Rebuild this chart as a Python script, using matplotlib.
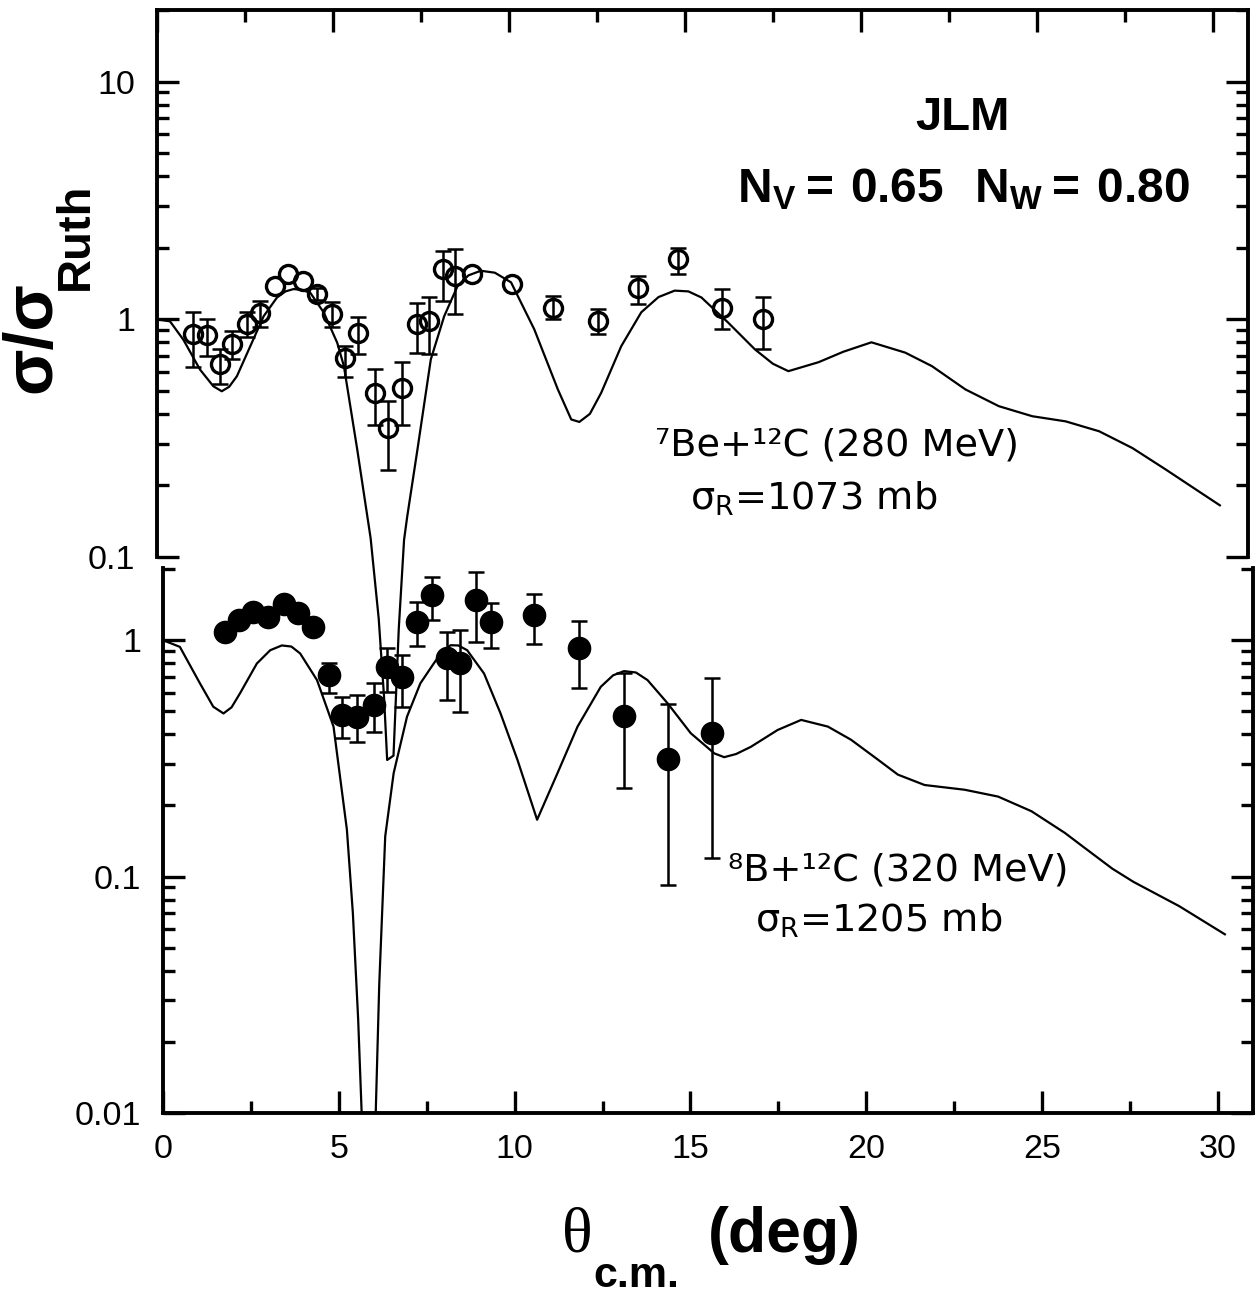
import numpy as np
import matplotlib
matplotlib.use('Agg')
import matplotlib.pyplot as plt
from matplotlib.ticker import (LogLocator, MultipleLocator, FixedLocator,
                               FixedFormatter, NullFormatter)

plt.rcParams['font.family'] = ['Liberation Sans', 'DejaVu Sans']
plt.rcParams['mathtext.fontset'] = 'custom'
plt.rcParams['mathtext.rm'] = 'DejaVu Sans'
plt.rcParams['mathtext.bf'] = 'Liberation Sans:bold'

# ---- 7Be + 12C (280 MeV), upper panel ----
be7_theta = [1.03, 1.41, 1.79, 2.12, 2.55, 2.93, 3.35, 3.73, 4.16, 4.54,
             4.96, 5.34, 5.72, 6.19, 6.57, 6.97, 7.38, 7.74, 8.12, 8.47,
             8.94, 10.08, 11.26, 12.53, 13.67, 14.81, 16.04, 17.21]
be7_ratio = [0.865, 0.856, 0.646, 0.784, 0.953, 1.067, 1.38, 1.55, 1.45, 1.275,
             1.05, 0.689, 0.879, 0.49, 0.349, 0.515, 0.953, 0.984, 1.626, 1.52,
             1.55, 1.405, 1.12, 0.98, 1.36, 1.79, 1.12, 1.0]
be7_lo = [0.632, 0.70, 0.532, 0.678, 0.84, 0.925, np.nan, np.nan, np.nan, 1.2,
          0.925, 0.57, 0.712, 0.36, 0.233, 0.36, 0.723, 0.712, 1.19, 1.05,
          np.nan, np.nan, 1.0, 0.87, 1.157, 1.55, 0.907, 0.752]
be7_hi = [1.073, 1.0, 0.747, 0.893, 1.07, 1.195, np.nan, np.nan, np.nan, 1.35,
          1.18, 0.77, 1.02, 0.615, 0.452, 0.659, 1.176, 1.235, 1.94, 1.97,
          np.nan, np.nan, 1.25, 1.1, 1.52, 2.0, 1.34, 1.235]

be7_fit_theta = [0, 0.37, 0.75, 1.22, 1.6, 1.84, 2.05, 2.27, 2.65, 3.03, 3.41,
                 3.65, 3.88, 4.12, 4.36, 4.74, 5.12, 5.31, 5.69, 6.07, 6.3, 6.45,
                 6.54, 6.72, 6.87, 7.02, 7.11, 7.40, 7.78, 8.16, 8.54, 8.85, 9.2,
                 9.6, 10.06, 10.72, 11.39, 11.77, 12.0, 12.3, 12.62, 13.19, 13.76,
                 14.25, 14.71, 15.1, 15.47, 16.23, 16.99, 17.5, 17.94, 18.8, 19.5,
                 20.3, 21.26, 22.02, 22.97, 23.92, 24.87, 25.82, 26.77, 27.72,
                 28.67, 29.62, 30.2]
be7_fit = [1.0, 0.98, 0.82, 0.615, 0.523, 0.498, 0.52, 0.576, 0.77, 1.03, 1.235,
           1.31, 1.34, 1.33, 1.29, 1.067, 0.797, 0.636, 0.283, 0.12, 0.055, 0.026,
           0.014, 0.0146, 0.05, 0.118, 0.148, 0.283, 0.678, 1.03, 1.38, 1.53, 1.6,
           1.57, 1.43, 0.907, 0.507, 0.379, 0.37, 0.4, 0.49, 0.77, 1.07,
           1.24, 1.32, 1.31, 1.235, 0.968, 0.747, 0.65, 0.605, 0.66, 0.73,
           0.80, 0.724, 0.635, 0.507, 0.431, 0.391, 0.372, 0.338, 0.287,
           0.233, 0.188, 0.165]

# ---- 8B + 12C (320 MeV), lower panel ----
b8_theta = [1.77, 2.15, 2.57, 3.0, 3.43, 3.85, 4.28, 4.71, 5.09, 5.52,
            5.99, 6.37, 6.80, 7.23, 7.66, 8.08, 8.46, 8.89, 9.32, 10.55,
            11.83, 13.1, 14.35, 15.6]
b8_ratio = [1.084, 1.215, 1.316, 1.256, 1.428, 1.30, 1.138, 0.712, 0.483, 0.475,
            0.532, 0.772, 0.70, 1.195, 1.55, 0.837, 0.797, 1.475, 1.195, 1.275,
            0.923, 0.477, 0.314, 0.406]
b8_lo = [np.nan, np.nan, np.nan, 1.17, np.nan, np.nan, 1.07, 0.596, 0.385, 0.372,
         0.41, 0.605, 0.523, 0.943, 1.22, 0.558, 0.498, 0.984, 0.923, 0.968,
         0.625, 0.237, 0.092, 0.12]
b8_hi = [np.nan, np.nan, np.nan, 1.33, np.nan, np.nan, 1.2, 0.797, 0.576, 0.586,
         0.656, 0.923, 0.864, 1.45, 1.85, 1.084, 1.1, 1.94, 1.43, 1.57,
         1.2, 0.723, 0.535, 0.689]

b8_fit_theta = [0, 0.48, 1.05, 1.43, 1.72, 1.95, 2.19, 2.67, 3.05, 3.38, 3.65,
                3.9, 4.38, 4.85, 5.23, 5.4, 5.55, 5.65, 5.85, 6.05, 6.15, 6.32,
                6.56, 6.94, 7.32, 7.7, 7.95, 8.18, 8.4, 8.65, 9.13, 9.6, 10.08,
                10.64, 11.22, 11.79, 12.45, 12.8, 13.11, 13.45, 13.78, 14.35,
                15.01, 15.68, 15.96, 16.3, 16.72, 17.48, 18.15, 18.91, 19.57,
                20.3, 20.9, 21.66, 22.8, 23.75, 24.7, 25.65, 26.22, 27.0, 27.6,
                28.9, 30.2]
b8_fit = [1.0, 0.937, 0.657, 0.523, 0.49, 0.52, 0.596, 0.797, 0.907, 0.95, 0.94,
          0.879, 0.678, 0.431, 0.158, 0.07, 0.025, 0.01, 0.002, 0.01, 0.035, 0.148,
          0.274, 0.475, 0.657, 0.797, 0.9, 0.952, 0.95, 0.907, 0.723, 0.49, 0.312,
          0.174, 0.274, 0.431, 0.635, 0.71, 0.74, 0.73, 0.678, 0.541,
          0.404, 0.332, 0.32, 0.33, 0.354, 0.417, 0.46, 0.431, 0.379,
          0.315, 0.27, 0.244, 0.233, 0.218, 0.189, 0.153, 0.132, 0.108, 0.095,
          0.075, 0.057]

W, H = 1257, 1296


def fx(px):
    return px / W


def fy(py):
    return 1 - py / H


fig = plt.figure(figsize=(W / 100, H / 100), dpi=100)
ax_top = fig.add_axes([fx(157), fy(557), fx(1248) - fx(157), fy(10) - fy(557)])
ax_bot = fig.add_axes([fx(163), fy(1113), fx(1253) - fx(163), fy(568) - fy(1113)])


def style(ax, ylim, yticks, ylabels):
    ax.set_facecolor('none')
    ax.set_yscale('log')
    ax.set_xlim(0, 31)
    ax.set_ylim(*ylim)
    ax.xaxis.set_major_locator(MultipleLocator(5))
    ax.xaxis.set_minor_locator(MultipleLocator(2.5))
    ax.yaxis.set_major_locator(FixedLocator(yticks))
    ax.yaxis.set_major_formatter(FixedFormatter(ylabels))
    ax.yaxis.set_minor_locator(LogLocator(base=10, subs=range(2, 10), numticks=20))
    ax.yaxis.set_minor_formatter(NullFormatter())
    for s in ax.spines.values():
        s.set_linewidth(2.8)
    ax.tick_params(which='both', direction='in', width=2.4, right=True,
                   labelsize=24.5)
    ax.tick_params(which='major', length=16)
    ax.tick_params(which='minor', length=8.5)
    ax.tick_params(axis='y', pad=16)
    ax.tick_params(axis='x', pad=15)


style(ax_top, (0.1, 20), [0.1, 1, 10], ['0.1', '1', '10'])
style(ax_bot, (0.01, 2.02), [0.01, 0.1, 1], ['0.01', '0.1', '1'])

ax_top.spines['bottom'].set_visible(False)
ax_top.tick_params(axis='x', which='both', bottom=False, top=True,
                   labelbottom=False)
ax_bot.spines['top'].set_visible(False)
ax_bot.tick_params(axis='x', which='both', top=False, bottom=True)

# fits
ax_top.plot(be7_fit_theta, be7_fit, color='black', lw=1.6, clip_on=False, zorder=2)
ax_bot.plot(b8_fit_theta, b8_fit, color='black', lw=1.6, zorder=2)

# 7Be data (open circles)
t = np.array(be7_theta)
r = np.array(be7_ratio)
lo = np.array(be7_lo)
hi = np.array(be7_hi)
m = ~np.isnan(lo)
ax_top.errorbar(t[m], r[m], yerr=[r[m] - lo[m], hi[m] - r[m]], fmt='none',
                ecolor='black', elinewidth=1.8, capsize=6, capthick=1.8, zorder=3)
ax_top.plot(t, r, 'o', ms=13, mfc='none', mec='black', mew=2.4, zorder=4)

# 8B data (filled circles)
t = np.array(b8_theta)
r = np.array(b8_ratio)
lo = np.array(b8_lo)
hi = np.array(b8_hi)
m = ~np.isnan(lo)
ax_bot.errorbar(t[m], r[m], yerr=[r[m] - lo[m], hi[m] - r[m]], fmt='none',
                ecolor='black', elinewidth=1.8, capsize=6, capthick=1.8, zorder=3)
ax_bot.plot(t, r, 'o', ms=16, mfc='black', mec='black', mew=1, zorder=4)

# axis labels
fig.text(fx(50), fy(337), 'σ/σ', rotation=90, rotation_mode='anchor',
         ha='center', va='baseline', fontsize=49, fontweight='bold')
fig.text(fx(88), fy(236), 'Ruth', rotation=90, rotation_mode='anchor',
         ha='center', va='baseline', fontsize=34, fontweight='bold')
fig.text(fx(577), fy(1252), 'θ', ha='center', va='baseline', fontsize=46,
         family='Liberation Serif')
fig.text(fx(593), fy(1287), 'c.m.', ha='left', va='baseline', fontsize=31,
         fontweight='bold')
fig.text(fx(708), fy(1252), '(deg)', ha='left', va='baseline', fontsize=45,
         fontweight='bold')

# annotations
fig.text(fx(963), fy(130), 'JLM', ha='center', va='baseline', fontsize=34,
         fontweight='bold')
fig.text(fx(737), fy(202), r'$\mathbf{N_{V}{=}\,0.65\ \ N_{W}{=}\,0.80}$',
         ha='left', va='baseline', fontsize=34.5)
fig.text(fx(655), fy(455), '⁷Be+¹²C (280 MeV)', ha='left', va='baseline',
         fontsize=27.5, family='DejaVu Sans')
fig.text(fx(690), fy(510), r'$\mathrm{\sigma}_\mathrm{R}$=1073 mb', ha='left',
         va='baseline', fontsize=27.5, family='DejaVu Sans')
fig.text(fx(728), fy(880), '⁸B+¹²C (320 MeV)', ha='left', va='baseline',
         fontsize=27.5, family='DejaVu Sans')
fig.text(fx(755), fy(932), r'$\mathrm{\sigma}_\mathrm{R}$=1205 mb', ha='left',
         va='baseline', fontsize=27.5, family='DejaVu Sans')

fig.savefig('out.png', dpi=100)
